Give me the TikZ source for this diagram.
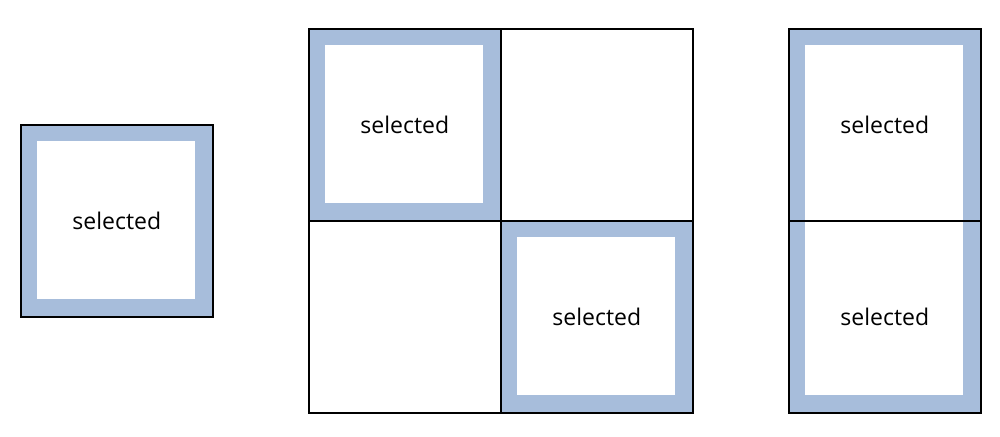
\documentclass[tikz,border=0pt]{standalone}
\usepackage{fontspec}
\setmainfont{Open Sans}
\definecolor{selblue}{RGB}{167,189,219}
\begin{document}
\begin{tikzpicture}[x=1pt,y=-1pt,
  cell/.style={draw=black,line width=1.6pt,minimum width=192pt,minimum height=192pt,inner sep=0pt,anchor=north west,font=\fontsize{23}{27}\selectfont},
  band/.style={fill=selblue},
  hole/.style={fill=white}]
\useasboundingbox (0,0) rectangle (1000,436);
% left single
\fill[band] (20,124) rectangle (212,316);
\fill[hole] (37,141) rectangle (195,299);
\node[cell] (a) at (20,124) {selected};
% 2x2 grid
\fill[band] (308,28) rectangle (500,220);
\fill[hole] (325,45) rectangle (483,203);
\fill[band] (500,220) rectangle (692,412);
\fill[hole] (517,237) rectangle (675,395);
\node[cell] (g11) at (308,28) {selected};
\node[cell] (g12) at (500,28) {};
\node[cell] (g21) at (308,220) {};
\node[cell] (g22) at (500,220) {selected};
% right column
\fill[band] (788,28) rectangle (980,412);
\fill[hole] (805,45) rectangle (963,395);
\node[cell] (c1) at (788,28) {selected};
\node[cell] (c2) at (788,220) {selected};
\end{tikzpicture}
\end{document}
